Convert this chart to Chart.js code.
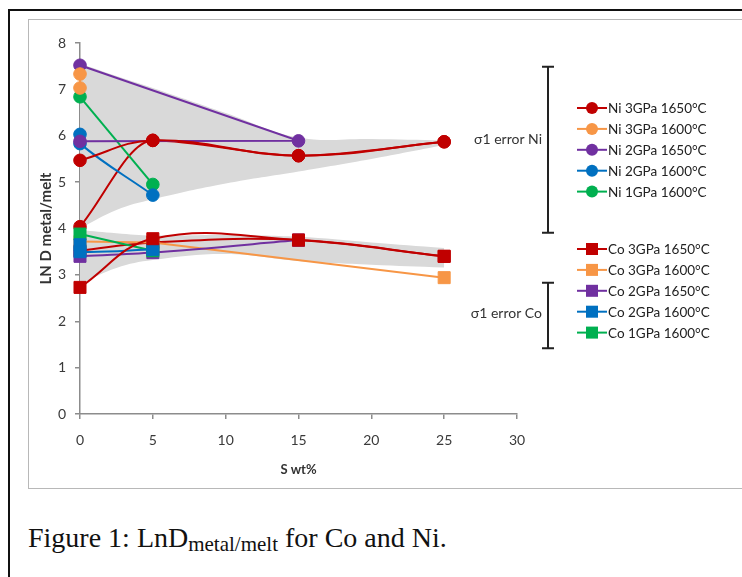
<!DOCTYPE html>
<html>
<head>
<meta charset="utf-8">
<script src="https://cdn.jsdelivr.net/npm/chart.js@4"></script>
<style>
body { margin: 0; background: #fff; width: 742px; height: 577px; overflow: hidden; position: relative; }
#frame { position: absolute; left: 8px; top: 9px; width: 800px; height: 700px; border-left: 2px solid #111; border-top: 2px solid #111; }
#box { position: absolute; left: 28px; top: 19px; width: 800px; height: 468px; border: 1px solid #b8b8b8; border-right: none; }
#c { position: absolute; left: 29px; top: 20px; }
#caption { position: absolute; left: 28px; top: 524px; font-family: 'Liberation Serif', 'Times New Roman', serif; font-size: 28px; line-height: 1; color: #111; white-space: nowrap; }
#caption sub { font-size: 21px; vertical-align: -4px; line-height: 1; }
</style>
</head>
<body>
<div id="frame"></div>
<div id="box"></div>
<canvas id="c" width="713" height="467"></canvas>
<div id="caption">Figure 1: LnD<sub>metal/melt</sub> for Co and Ni.</div>
<script>
// series names and colours (same colour order for Ni and Co)
const niLabels = ['Ni 3GPa 1650°C', 'Ni 3GPa 1600°C', 'Ni 2GPa 1650°C', 'Ni 2GPa 1600°C', 'Ni 1GPa 1600°C'];
const coLabels = ['Co 3GPa 1650°C', 'Co 3GPa 1600°C', 'Co 2GPa 1650°C', 'Co 2GPa 1600°C', 'Co 1GPa 1600°C'];
const seriesColors = ['#c00000', '#f79646', '#7030a0', '#0070c0', '#00b050'];
const niTension = [0.4, 0, 0, 0.4, 0];
const coTension = [0.4, 0, 0.3, 0.3, 0];
const coOrder = [1, 3, 2, 1, 1];

// S wt% and LN D values, points in plotting order
const niX = [[0, 5, 15, 25], [0, 0], [0, 15, 0], [0, 0, 5], [0, 5]];
const niY = [[5.47, 5.9, 5.57, 5.87], [7.33, 7.03], [7.52, 5.89, 5.88], [6.03, 5.83, 4.72], [6.84, 4.95]];
const coX = [[0, 5, 15, 25], [0, 5, 25], [0, 5, 15], [0, 0, 5], [0, 5]];
const coY = [[2.73, 3.78, 3.75, 3.4], [3.72, 3.7, 2.94], [3.4, 3.48, 3.75], [3.65, 3.5, 3.55], [3.88, 3.52]];

// second run of the 3GPa 1650°C samples
const niExtraX = [0, 5, 15, 25];
const niExtraY = [4.04, 5.9, 5.57, 5.87];
const coExtraX = [0, 5, 15, 25];
const coExtraY = [3.52, 3.7, 3.75, 3.4];

// grey sigma envelopes
const bandX = [0, 2.5, 5, 10, 15, 20, 25];
const niBandHigh = [7.56, 7.29, 7.03, 6.49, 5.96, 5.93, 5.9];
const niBandLow = [4.0, 4.4, 4.63, 4.97, 5.23, 5.5, 5.8];
const coBandHigh = [3.97, 3.9, 3.85, 3.86, 3.82, 3.7, 3.58];
const coBandLow = [2.8, 3.15, 3.32, 3.45, 3.3, 3.22, 3.16];

// sigma error bars at the side
const errLabels = ['σ1 error Ni', 'σ1 error Co'];
const errMid = [5.7, 2.125];
const errHalf = [1.79, 0.705];
const errTextY = [5.92, 2.17];

const xTicks = [0, 5, 10, 15, 20, 25, 30];
const yTicks = [0, 1, 2, 3, 4, 5, 6, 7, 8];

const pts = (xs, ys) => xs.map((x, i) => ({ x: x, y: ys[i] }));

function series(label, xs, ys, color, style, tension, group, order) {
    return {
        label: label,
        data: pts(xs, ys),
        borderColor: color,
        backgroundColor: color,
        pointStyle: style,
        pointRadius: style === 'rect' ? 8.5 : 6.3,
        pointBorderWidth: 1,
        borderWidth: 2,
        tension: tension,
        fill: false,
        clip: false,
        order: order,
        group: group
    };
}

function band(ys, fillTo) {
    return {
        data: pts(bandX, ys),
        borderWidth: 0,
        borderColor: 'rgba(0,0,0,0)',
        pointRadius: 0,
        tension: 0.4,
        fill: fillTo,
        backgroundColor: '#d9d9d9',
        order: 10
    };
}

const datasets = [
    band(niBandHigh, false),
    band(niBandLow, '-1'),
    band(coBandHigh, false),
    band(coBandLow, '-1')
];
niLabels.forEach((l, i) => datasets.push(series(l, niX[i], niY[i], seriesColors[i], 'circle', niTension[i], 'ni', 1)));
coLabels.forEach((l, i) => datasets.push(series(l, coX[i], coY[i], seriesColors[i], 'rect', coTension[i], 'co', coOrder[i])));
const niExtra = series('', niExtraX, niExtraY, seriesColors[0], 'circle', 0.4, null, 1);
niExtra.cubicInterpolationMode = 'monotone';
datasets.push(niExtra);
datasets.push(series('', coExtraX, coExtraY, seriesColors[0], 'rect', 0.4, null, 4));

const sideNotes = {
    id: 'sideNotes',
    afterDraw(chart) {
        const { ctx, chartArea, scales: { y } } = chart;
        ctx.save();
        // error bars
        const bx = chartArea.right + 31;
        ctx.font = '14px Lato';
        errMid.forEach((m, i) => {
            const top = y.getPixelForValue(m + errHalf[i]);
            const bot = y.getPixelForValue(m - errHalf[i]);
            ctx.strokeStyle = '#222';
            ctx.lineWidth = 2;
            ctx.beginPath();
            ctx.moveTo(bx, top); ctx.lineTo(bx, bot);
            ctx.moveTo(bx - 6, top); ctx.lineTo(bx + 6, top);
            ctx.moveTo(bx - 6, bot); ctx.lineTo(bx + 6, bot);
            ctx.stroke();
            ctx.fillStyle = '#333';
            ctx.textAlign = 'right';
            ctx.textBaseline = 'middle';
            ctx.fillText(errLabels[i], bx - 6, y.getPixelForValue(errTextY[i]));
        });
        // legend
        const lx = chartArea.right + 60;
        const tops = { ni: 88, co: 229 };
        const count = { ni: 0, co: 0 };
        ctx.font = '13.5px Lato';
        chart.data.datasets.forEach(ds => {
            if (!ds.group) return;
            const ly = tops[ds.group] + count[ds.group] * 20.9;
            count[ds.group]++;
            ctx.strokeStyle = ds.borderColor;
            ctx.fillStyle = ds.borderColor;
            ctx.lineWidth = 2;
            ctx.beginPath();
            ctx.moveTo(lx, ly); ctx.lineTo(lx + 30, ly);
            ctx.stroke();
            if (ds.pointStyle === 'rect') {
                ctx.fillRect(lx + 9, ly - 6, 12, 12);
            } else {
                ctx.beginPath();
                ctx.arc(lx + 15, ly, 6, 0, Math.PI * 2);
                ctx.fill();
            }
            ctx.fillStyle = '#222';
            ctx.textAlign = 'left';
            ctx.fillText(ds.label, lx + 31, ly + 1);
        });
        ctx.restore();
    }
};

const axisGrey = '#8c8c8c';

new Chart(document.getElementById('c').getContext('2d'), {
    type: 'line',
    data: { datasets: datasets },
    plugins: [sideNotes],
    options: {
        responsive: false,
        animation: false,
        layout: { padding: { left: 0, top: 23, right: 225, bottom: 0 } },
        plugins: {
            legend: { display: false },
            tooltip: { enabled: false }
        },
        scales: {
            x: {
                type: 'linear',
                min: 0,
                max: 30,
                afterBuildTicks: s => { s.ticks = xTicks.map(v => ({ value: v })); },
                afterFit: s => { s.height = 73; },
                ticks: { color: '#3a3a3a', padding: 13, font: { family: 'Lato', size: 14 } },
                grid: { drawOnChartArea: false, tickLength: 5, color: axisGrey, lineWidth: 1.5 },
                border: { color: axisGrey, width: 1.5 },
                title: { display: true, text: 'S wt%', color: '#333', padding: { top: 0, bottom: 9 }, font: { family: 'Lato', size: 13, weight: 'bold' } }
            },
            y: {
                min: 0,
                max: 8,
                afterBuildTicks: s => { s.ticks = yTicks.map(v => ({ value: v })); },
                afterFit: s => { s.width = 51; },
                ticks: { color: '#3a3a3a', padding: 9, font: { family: 'Lato', size: 14 } },
                grid: { drawOnChartArea: false, tickLength: 5, color: axisGrey, lineWidth: 1.5 },
                border: { color: axisGrey, width: 1.5 },
                title: { display: true, text: 'LN D metal/melt', color: '#333', padding: { top: 8, bottom: 0 }, font: { family: 'Lato', size: 15, weight: 'bold' } }
            }
        }
    }
});
</script>
</body>
</html>
